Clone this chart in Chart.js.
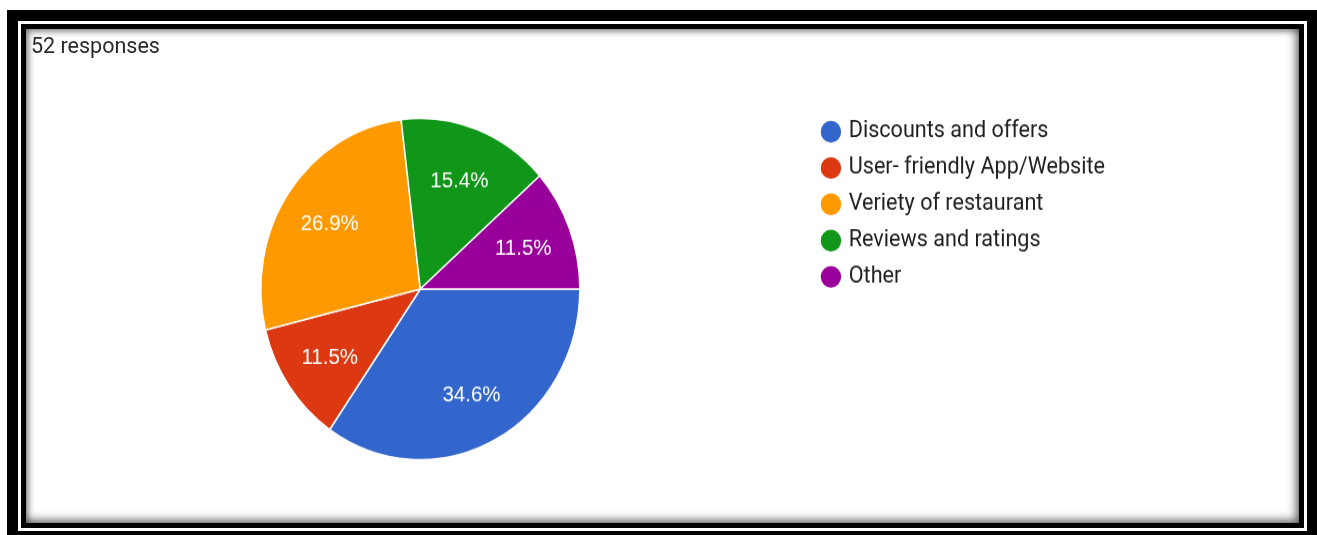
<!DOCTYPE html>
<html>
<head>
<meta charset="utf-8">
<script src="https://cdn.jsdelivr.net/npm/chart.js@4/dist/chart.umd.min.js"></script>
<style>
    html, body { margin: 0; padding: 0; background: #fff; }
    body { width: 1317px; height: 535px; overflow: hidden; position: relative; }
    .frame {
        position: absolute; left: 7px; top: 10px; width: 1310px; height: 525px;
        box-sizing: border-box; background: #000; padding: 11px 10px 4px 11px;
    }
    .frame-line { height: 100%; box-sizing: border-box; border: 3px solid #fff; }
    .frame-inner { height: 100%; box-sizing: border-box; border: 5px solid #000; }
    .panel {
        position: relative; width: 1273px; height: 494px; background: #fff; overflow: hidden;
        box-shadow: inset -3px -3px 10px rgba(0,0,0,0.55), inset 2px 2px 7px rgba(0,0,0,0.45);
    }
    #responses {
        position: absolute; left: 5px; top: 7px; font-family: Roboto, sans-serif;
        font-size: 21.5px; line-height: 20px; color: #2b2b2b; white-space: nowrap;
    }
    #pieChart { position: absolute; left: 0; top: 0; transform: scaleY(1.07); transform-origin: 0 0; }
</style>
</head>
<body>
<div class="frame"><div class="frame-line"><div class="frame-inner">
    <div class="panel">
        <canvas id="pieChart" width="1273" height="462"></canvas>
        <div id="responses"></div>
    </div>
</div></div></div>

<script>
const labels = ['Discounts and offers', 'User- friendly App/Website', 'Veriety of restaurant', 'Reviews and ratings', 'Other'];
const counts = [18, 6, 14, 8, 6];
const colors = ['#3366cc', '#dc3912', '#ff9900', '#109618', '#990099'];

const total = counts.reduce((a, b) => a + b, 0);
document.getElementById('responses').textContent = total + ' responses';

// проценты внутри секторов
const sliceLabels = {
    id: 'sliceLabels',
    afterDatasetsDraw(chart) {
        const ctx = chart.ctx;
        const meta = chart.getDatasetMeta(0);
        ctx.save();
        ctx.font = '20.5px "Liberation Sans", Arial, sans-serif';
        ctx.fillStyle = '#ffffff';
        ctx.textAlign = 'center';
        ctx.textBaseline = 'middle';
        meta.data.forEach((arc, i) => {
            const p = arc.getProps(['x', 'y', 'startAngle', 'endAngle', 'outerRadius']);
            const mid = (p.startAngle + p.endAngle) / 2;
            const r = p.outerRadius * 0.69;
            const text = (counts[i] / total * 100).toFixed(1) + '%';
            ctx.fillText(text, p.x + Math.cos(mid) * r, p.y + Math.sin(mid) * r + 1.8);
        });
        ctx.restore();
    }
};

Chart.defaults.font.family = 'Roboto, sans-serif';

const pieCtx = document.getElementById('pieChart').getContext('2d');
new Chart(pieCtx, {
    type: 'pie',
    data: {
        labels: labels,
        datasets: [{
            data: counts,
            backgroundColor: colors,
            borderColor: '#ffffff',
            borderWidth: 1.5,
            radius: 159.5,
            rotation: 90
        }]
    },
    options: {
        responsive: false,
        animation: false,
        layout: {
            padding: { left: 3, right: 184, top: 72.9, bottom: 48.9 }
        },
        plugins: {
            tooltip: { enabled: false },
            legend: {
                position: 'right',
                align: 'start',
                labels: {
                    usePointStyle: true,
                    pointStyle: 'circle',
                    boxWidth: 14,
                    boxHeight: 15.5,
                    padding: 12.3,
                    color: '#212121',
                    font: { size: 21.6 }
                }
            }
        }
    },
    plugins: [sliceLabels]
});
</script>
</body>
</html>
